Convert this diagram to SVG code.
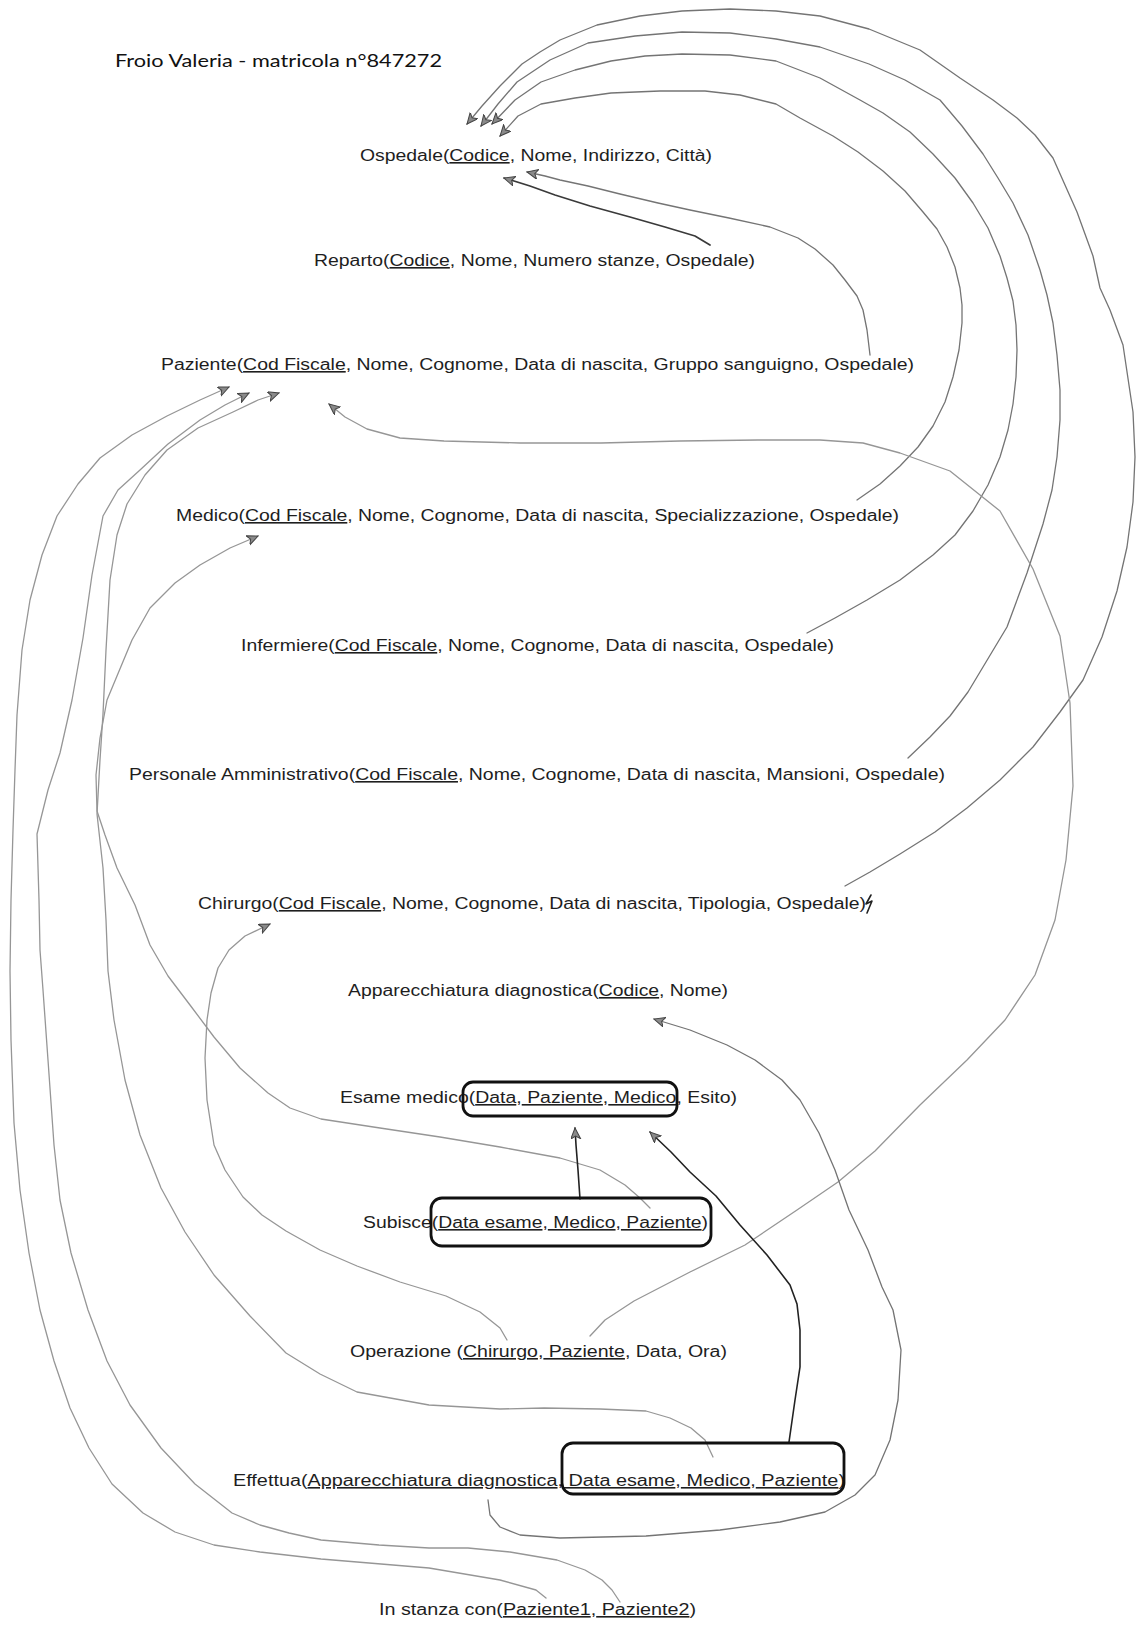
<svg xmlns="http://www.w3.org/2000/svg" width="1136" height="1629" viewBox="0 0 1136 1629">
<style>
.t{font-family:"Liberation Sans",Arial,sans-serif;font-size:16px;fill:#1e1e1e}
.title{font-family:Lato,"Liberation Sans",sans-serif;font-size:17.5px;fill:#111}
.u{text-decoration:underline}
.c{fill:none;stroke:#969696;stroke-width:1.3;stroke-linejoin:round;stroke-linecap:round}
.m{stroke:#747474}
.d{stroke:#3a3a3a;stroke-width:1.7}
.k{stroke:#222;stroke-width:1.6}
.a{marker-end:url(#ah)}
.box{fill:none;stroke:#111;stroke-width:2.8}
</style>
<defs>
<marker id="ah" markerUnits="userSpaceOnUse" markerWidth="14" markerHeight="12" refX="11" refY="5" orient="auto">
<path d="M0,0 L11,5 L0,10 L3,5 z" fill="#8a8a8a" stroke="#444" stroke-width="1"/>
</marker>
</defs>
<rect x="0" y="0" width="1136" height="1629" fill="#ffffff"/>

<g id="title"><text class="title" x="115" y="67" textLength="327" lengthAdjust="spacingAndGlyphs">Froio Valeria - matricola n°847272</text></g>

<g id="connectors">
<path class="c d a" d="M710,245 L695,236 L665,227 L630,217 L590,206 L555,195 L530,186 L504,178"/>
<path class="c m a" d="M870,355 L867,330 L863,310 L857,296 L845,280 L833,265 L815,249 L798,238 L770,227 L729,218 L690,210 L658,203 L620,194 L588,186 L560,180 L545,176 L527,172"/>
<path class="c m a" d="M845,886 L870,872 L900,854 L935,832 L967,808 L1000,780 L1033,747 L1060,712 L1083,680 L1102,637 L1117,591 L1127,547 L1133,502 L1135,457 L1133,412 L1123,345 L1110,310 L1100,288 L1093,256 L1077,212 L1053,158 L1035,135 L1017,118 L993,100 L960,78 L920,50 L869,29 L820,16 L776,11 L730,9 L682,11 L640,16 L597,25 L560,40 L540,52 L522,64 L500,86 L482,106 L467,124"/>
<path class="c m a" d="M908,758 L930,737 L950,716 L968,692 L983,667 L1007,627 L1027,573 L1043,524 L1052,490 L1057,457 L1060,420 L1060,390 L1057,355 L1053,323 L1047,295 L1040,270 L1028,235 L1013,203 L998,178 L983,154 L962,126 L940,100 L905,80 L869,64 L820,47 L776,39 L730,33 L682,32 L635,36 L588,43 L550,60 L517,82 L498,104 L481,126"/>
<path class="c m a" d="M807,633 L835,618 L867,600 L900,580 L933,555 L955,535 L973,511 L988,485 L1000,457 L1008,430 L1013,404 L1016,377 L1017,350 L1016,325 L1013,301 L1007,278 L1000,256 L988,228 L973,203 L955,178 L933,154 L910,132 L883,113 L860,100 L820,78 L776,61 L730,55 L682,54 L645,56 L611,61 L575,70 L541,82 L515,100 L492,124"/>
<path class="c m a" d="M857,500 L880,484 L900,466 L918,447 L933,426 L945,402 L953,377 L959,350 L962,323 L962,305 L960,288 L955,267 L947,247 L937,229 L923,212 L905,191 L883,171 L858,152 L833,136 L800,118 L776,104 L740,95 L705,91 L660,91 L611,93 L575,98 L541,104 L518,116 L500,136"/>
<path class="c a" d="M590,1336 L605,1320 L634,1301 L690,1272 L745,1245 L797,1210 L838,1182 L875,1151 L920,1105 L967,1060 L1005,1020 L1035,975 L1055,920 L1066,860 L1073,786 L1070,703 L1060,636 L1033,569 L1000,511 L950,471 L900,453 L863,443 L820,440 L758,440 L680,441 L601,443 L520,443 L444,441 L400,438 L367,429 L345,417 L329,404"/>
<path class="c a" d="M546,1598 L536,1590 L500,1580 L429,1568 L321,1559 L260,1552 L214,1545 L175,1532 L143,1513 L112,1484 L89,1448 L70,1408 L54,1361 L40,1310 L29,1253 L20,1190 L14,1123 L11,1040 L10,971 L11,900 L13,830 L15,770 L17,715 L22,650 L30,600 L42,555 L57,516 L78,484 L100,458 L132,435 L167,416 L200,400 L229,387"/>
<path class="c a" d="M620,1602 L612,1590 L602,1580 L585,1570 L557,1560 L510,1552 L468,1548 L429,1548 L379,1545 L321,1540 L289,1533 L260,1525 L232,1513 L195,1484 L161,1448 L130,1405 L107,1361 L88,1310 L71,1253 L60,1200 L54,1145 L48,1060 L43,990 L40,950 L39,900 L37,834 L48,790 L60,753 L72,700 L83,638 L92,575 L103,516 L118,490 L140,470 L168,444 L200,420 L225,405 L249,393"/>
<path class="c a" d="M713,1457 L705,1440 L691,1428 L670,1418 L646,1411 L600,1409 L544,1408 L500,1409 L429,1405 L357,1392 L320,1374 L286,1353 L250,1316 L214,1275 L185,1232 L161,1188 L140,1135 L125,1080 L114,1020 L108,971 L106,920 L103,868 L97,814 L100,760 L103,714 L106,650 L110,580 L117,535 L127,504 L145,475 L167,450 L198,428 L233,412 L258,400 L279,393"/>
<path class="c a" d="M650,1208 L640,1198 L625,1185 L600,1170 L560,1158 L500,1147 L440,1137 L380,1128 L321,1119 L290,1108 L268,1093 L240,1068 L214,1037 L190,1005 L168,976 L150,945 L135,905 L117,868 L105,835 L97,811 L96,775 L100,738 L107,700 L117,676 L132,640 L150,608 L175,583 L200,565 L230,548 L258,536"/>
<path class="c a" d="M507,1340 L500,1328 L480,1312 L446,1296 L400,1282 L357,1266 L320,1250 L286,1231 L262,1215 L243,1197 L225,1170 L214,1145 L207,1100 L205,1058 L207,1020 L211,993 L218,968 L229,950 L245,936 L270,924"/>
<path class="c m a" d="M488,1500 L490,1515 L500,1527 L520,1535 L560,1538 L646,1536 L720,1530 L780,1522 L825,1512 L855,1495 L875,1475 L890,1440 L898,1400 L901,1350 L893,1310 L882,1287 L868,1250 L849,1210 L835,1170 L819,1133 L800,1100 L782,1080 L755,1060 L727,1045 L690,1030 L654,1019"/>
<path class="c k a" d="M789,1442 L795,1400 L800,1367 L800,1330 L797,1304 L790,1285 L767,1255 L740,1225 L716,1196 L690,1172 L671,1152 L650,1132"/>
<path class="c k a" d="M580,1199 L578,1170 L576,1145 L575,1128"/>
<path class="c k" d="M871,895 L866,904 L872,901 L867,913"/>
</g>

<g id="node-ospedale"><text class="t" x="360" y="161" textLength="352" lengthAdjust="spacingAndGlyphs">Ospedale(<tspan class="u">Codice</tspan>, Nome, Indirizzo, Città)</text></g>
<g id="node-reparto"><text class="t" x="314" y="266" textLength="441" lengthAdjust="spacingAndGlyphs">Reparto(<tspan class="u">Codice</tspan>, Nome, Numero stanze, Ospedale)</text></g>
<g id="node-paziente"><text class="t" x="161" y="370" textLength="753" lengthAdjust="spacingAndGlyphs">Paziente(<tspan class="u">Cod Fiscale</tspan>, Nome, Cognome, Data di nascita, Gruppo sanguigno, Ospedale)</text></g>
<g id="node-medico"><text class="t" x="176" y="521" textLength="723" lengthAdjust="spacingAndGlyphs">Medico(<tspan class="u">Cod Fiscale</tspan>, Nome, Cognome, Data di nascita, Specializzazione, Ospedale)</text></g>
<g id="node-infermiere"><text class="t" x="241" y="651" textLength="593" lengthAdjust="spacingAndGlyphs">Infermiere(<tspan class="u">Cod Fiscale</tspan>, Nome, Cognome, Data di nascita, Ospedale)</text></g>
<g id="node-personale"><text class="t" x="129" y="780" textLength="816" lengthAdjust="spacingAndGlyphs">Personale Amministrativo(<tspan class="u">Cod Fiscale</tspan>, Nome, Cognome, Data di nascita, Mansioni, Ospedale)</text></g>
<g id="node-chirurgo"><text class="t" x="198" y="909" textLength="668" lengthAdjust="spacingAndGlyphs">Chirurgo(<tspan class="u">Cod Fiscale</tspan>, Nome, Cognome, Data di nascita, Tipologia, Ospedale)</text></g>
<g id="node-apparecchiatura"><text class="t" x="348" y="996" textLength="380" lengthAdjust="spacingAndGlyphs">Apparecchiatura diagnostica(<tspan class="u">Codice</tspan>, Nome)</text></g>
<g id="node-esame">
<text class="t" x="340" y="1103" textLength="397" lengthAdjust="spacingAndGlyphs">Esame medico(<tspan class="u">Data</tspan>,<tspan class="u"> Paziente</tspan>,<tspan class="u"> Medico</tspan>, Esito)</text>
<rect class="box" x="463" y="1082" width="214" height="34" rx="10"/>
</g>
<g id="node-subisce">
<text class="t" x="363" y="1228" textLength="345" lengthAdjust="spacingAndGlyphs">Subisce(<tspan class="u">Data esame</tspan>,<tspan class="u"> Medico</tspan>,<tspan class="u"> Paziente</tspan>)</text>
<rect class="box" x="431" y="1198" width="280" height="48" rx="11"/>
</g>
<g id="node-operazione"><text class="t" x="350" y="1357" textLength="377" lengthAdjust="spacingAndGlyphs">Operazione (<tspan class="u">Chirurgo</tspan>,<tspan class="u"> Paziente</tspan>, Data, Ora)</text></g>
<g id="node-effettua">
<text class="t" x="233" y="1486" textLength="612" lengthAdjust="spacingAndGlyphs">Effettua(<tspan class="u">Apparecchiatura diagnostica</tspan>,<tspan class="u"> Data esame</tspan>,<tspan class="u"> Medico</tspan>,<tspan class="u"> Paziente</tspan>)</text>
<rect class="box" x="562" y="1443" width="282" height="51" rx="11"/>
</g>
<g id="node-instanza"><text class="t" x="379" y="1615" textLength="317" lengthAdjust="spacingAndGlyphs">In stanza con(<tspan class="u">Paziente1</tspan>,<tspan class="u"> Paziente2</tspan>)</text></g>
</svg>
